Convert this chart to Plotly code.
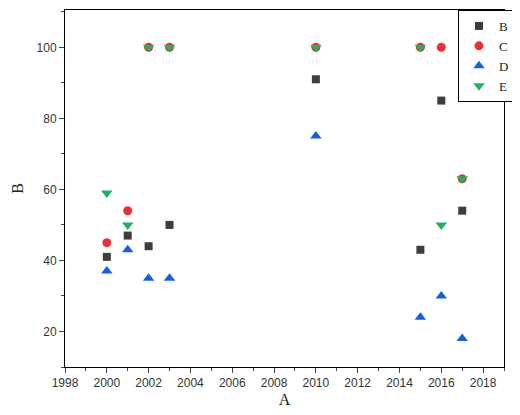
import plotly.graph_objects as go

years = [2000, 2001, 2002, 2003, 2010, 2015, 2016, 2017]
B = [41, 47, 44, 50, 91, 43, 85, 54]
C = [45, 54, 100, 100, 100, 100, 100, 63]
D = [37, 43, 35, 35, 75, 24, 30, 18]
E = [59, 50, 100, 100, 100, 100, 50, 63]

fig = go.Figure()
specs = [("B", B, "square", "#3d3d3d", 8),
         ("C", C, "circle", "#f03030", 9),
         ("D", D, "triangle-up", "#1560e0", 10),
         ("E", E, "triangle-down", "#22b060", 10)]
for name, vals, sym, col, sz in specs:
    fig.add_trace(go.Scatter(x=years, y=vals, mode="markers", name=name,
                             marker=dict(symbol=sym, color=col, size=sz)))

axis = dict(showgrid=False, zeroline=False, showline=True, linecolor="black",
            linewidth=1, mirror=True, ticks="outside", ticklen=5,
            tickfont=dict(family="Liberation Sans", size=12, color="#333"))
fig.update_layout(
    width=520, height=415, plot_bgcolor="white", paper_bgcolor="white",
    font=dict(family="Liberation Serif", size=13, color="#222"),
    margin=dict(l=57, r=24, t=2, b=56),
    xaxis=dict(axis, range=[1998, 2019], dtick=2, title=dict(text="A", standoff=4),
               minor=dict(ticks="outside", ticklen=3, dtick=1)),
    yaxis=dict(axis, range=[10, 110.5], dtick=20, title=dict(text="B", standoff=8),
               minor=dict(ticks="outside", ticklen=3, dtick=10)),
    legend=dict(x=1.025, y=1.0, xanchor="right", yanchor="top",
                bordercolor="black", borderwidth=1, bgcolor="white",
                font=dict(size=13), itemwidth=30, tracegroupgap=0),
)
fig.write_html("out.html")
